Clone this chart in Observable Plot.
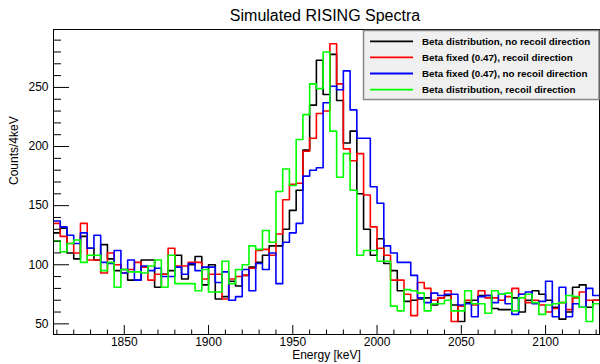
<!DOCTYPE html>
<html><head><meta charset="utf-8">
<script src="https://cdn.jsdelivr.net/npm/d3@7"></script>
<script src="https://cdn.jsdelivr.net/npm/@observablehq/plot@0.6"></script>
<style>body{margin:0;background:#fff} svg{display:block}</style>
</head><body><div id="chart"></div>
<script>
// Histogram binning (keV)
const binStart = 1808;
const binWidth = 4;

// Counts per 4 keV bin
const black = [127,131,110,105,124,114,104,117,105,95, 96,87,87,104,104,81,92,95,108,88, 100,107,83,100,71,73,86,82,91,98, 102,108,116,116,130,146,163,197,235,273, 244,278,239,203,213,160,130,108,122,101, 95,78,69,70,71,72,66,72,74,66, 52,68,70,74,74,63,62,62,72,60, 70,78,75,70,64,54,60,81,83,64, 70];
const red = [135,124,118,110,135,104,104,93,110,100, 93,96,102,98,87,92,92,114,99,99, 102,102,88,92,92,71,88,90,91,97, 112,113,108,126,155,168,169,196,207,228, 230,287,253,198,188,194,159,132,114,108, 87,87,75,57,85,80,70,72,78,52, 65,70,66,78,72,72,70,73,80,75, 68,70,66,60,63,68,62,72,77,70, 70];
const blue = [137,132,125,118,127,114,125,102,101,112, 93,104,87,99,95,97,90,90,98,92, 101,95,98,98,85,94,70,73,96,78, 101,96,110,84,119,127,135,175,180,182, 237,251,248,264,231,207,207,166,152,116, 110,102,102,91,72,68,76,74,75,75, 66,67,56,73,74,68,75,67,58,75, 77,67,69,86,56,81,56,67,64,80, 74];
const green = [120,111,118,121,102,108,108,95,102,81, 96,94,94,93,99,104,81,108,84,84, 84,78,96,77,77,103,84,96,100,116, 113,129,119,162,181,167,206,227,253,249, 280,213,174,194,163,108,112,112,103,103, 65,61,79,78,76,61,67,67,70,61, 61,78,67,67,59,78,75,76,61,72, 75,68,58,66,67,68,74,73,64,52, 67];

const seriesNames = [
  "Beta distribution, no recoil direction",
  "Beta fixed (0.47), recoil direction",
  "Beta fixed (0.47), no recoil direction",
  "Beta distribution, recoil direction"
];
const seriesColors = ["#000000", "#ff0000", "#0000ff", "#00ff00"];

const xMajor = [1850, 1900, 1950, 2000, 2050, 2100];
const yMajor = [50, 100, 150, 200, 250];
const xDomain = [1808, 2132];
const yDomain = [41, 299];

const seriesValues = [black, red, blue, green];
const rows = [];
seriesValues.forEach((vals, s) => {
  vals.forEach((v, i) => rows.push({series: seriesNames[s], e: binStart + binWidth * i, v}));
  rows.push({series: seriesNames[s], e: binStart + binWidth * vals.length, v: vals[vals.length - 1]});
});
const xMinor = d3.range(1810, 2131, 10).filter(d => d % 50 !== 0);
const yMinor = d3.range(50, 291, 10).filter(d => d % 50 !== 0);

const W = 600, H = 364, mL = 53, mR = 1, mT = 29, mB = 30;
const fw = W - mL - mR, fh = H - mT - mB;

const plot = Plot.plot({
  width: W, height: H,
  marginLeft: mL, marginRight: mR, marginTop: mT, marginBottom: mB,
  style: {fontFamily: "'Liberation Sans', Arial, Helvetica, sans-serif", fontSize: "12px", color: "#000", background: "#fff", overflow: "visible"},
  x: {domain: xDomain},
  y: {domain: yDomain},
  color: {domain: seriesNames, range: seriesColors},
  marks: [
    Plot.line(rows, {x: "e", y: "v", z: "series", stroke: "series", curve: "step-after", strokeWidth: 1.6, clip: true}),
    Plot.frame({stroke: "#000", strokeWidth: 1}),
    Plot.ruleX(xMajor, {x: d => d, insetTop: fh - 9, stroke: "#000", strokeWidth: 1}),
    Plot.ruleX(xMinor, {x: d => d, insetTop: fh - 4.5, stroke: "#000", strokeWidth: 1}),
    Plot.ruleY(yMajor, {y: d => d, insetRight: fw - 16, stroke: "#000", strokeWidth: 1}),
    Plot.ruleY(yMinor, {y: d => d, insetRight: fw - 8, stroke: "#000", strokeWidth: 1}),
    Plot.axisX({ticks: xMajor, tickSize: 0, tickPadding: 3, label: null, fontSize: 12, tickFormat: d => String(d)}),
    Plot.axisY({ticks: yMajor, tickSize: 0, tickPadding: 5, label: null, fontSize: 12}),
    Plot.text(["Energy [keV]"], {frameAnchor: "bottom", lineAnchor: "middle", dy: 21, fontSize: 12}),
    Plot.text(["Counts/4keV"], {frameAnchor: "left", lineAnchor: "middle", rotate: -90, dx: -39, dy: 3, fontSize: 12}),
    Plot.text(["Simulated RISING Spectra"], {frameAnchor: "top", lineAnchor: "middle", dy: -13.5, dx: -1.5, fontSize: 16})
  ]
});

// Legend box (ROOT TLegend style)
const svg = d3.select(plot);
const lg = svg.append("g").attr("font-family", "'Liberation Sans', Arial, Helvetica, sans-serif").attr("text-anchor", "start");
lg.append("rect").attr("x", 363.5).attr("y", 30.5).attr("width", 235.5).attr("height", 69)
  .attr("fill", "#f0f0f0").attr("stroke", "#888").attr("stroke-width", 1.5);
seriesNames.forEach((name, i) => {
  const y = 41.3 + i * 16.1;
  lg.append("line").attr("x1", 370).attr("x2", 413).attr("y1", y).attr("y2", y)
    .attr("stroke", seriesColors[i]).attr("stroke-width", 1.8);
  lg.append("text").attr("x", 422).attr("y", y).attr("dy", "0.35em").attr("text-anchor", "start")
    .attr("font-size", 9.8).attr("font-weight", "bold").attr("fill", "#000").text(name);
});

document.getElementById("chart").appendChild(plot);
</script>
</body></html>
